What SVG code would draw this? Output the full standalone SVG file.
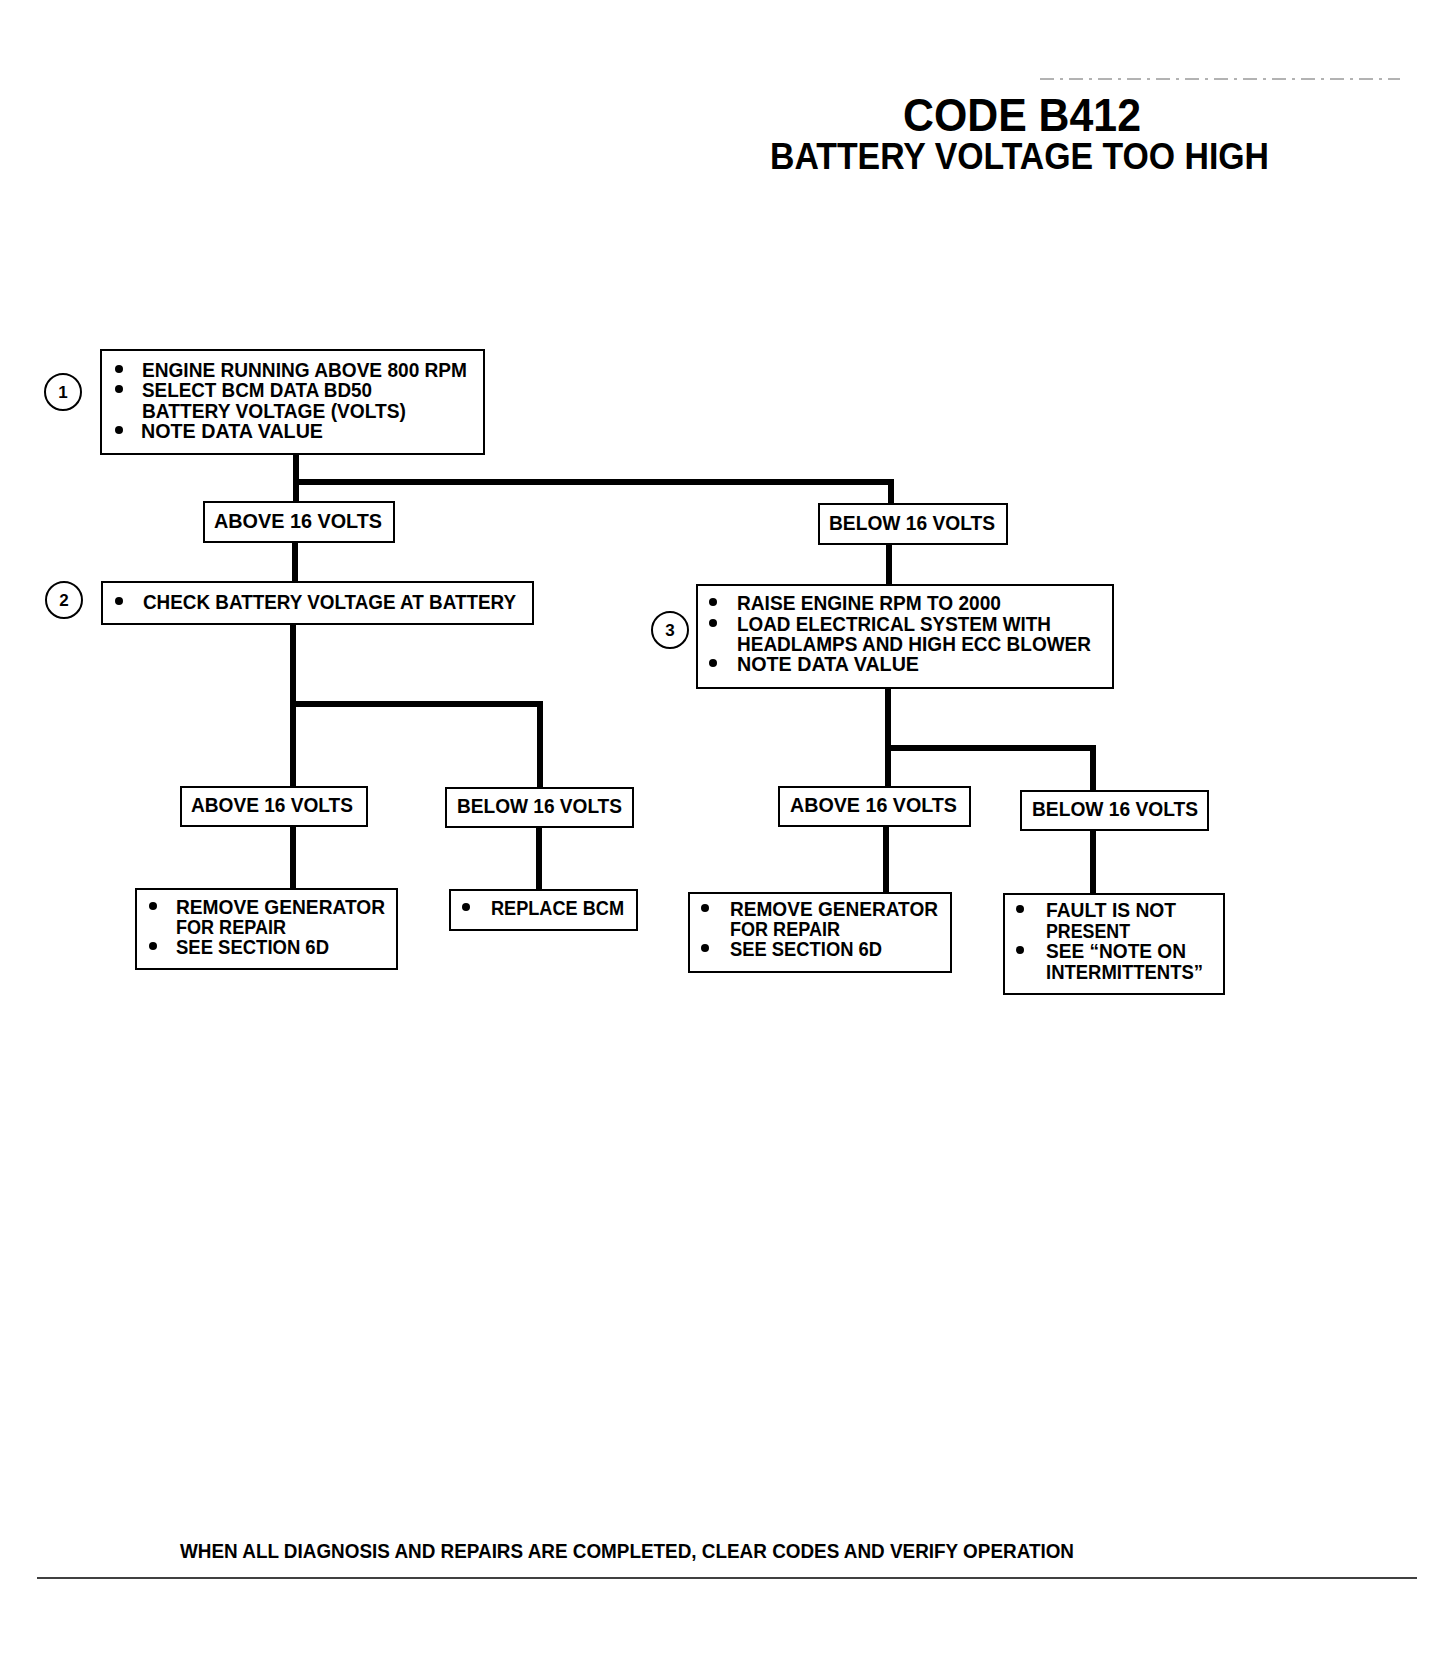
<svg xmlns="http://www.w3.org/2000/svg" width="1455" height="1654" viewBox="0 0 1455 1654">
<style>
.bg{fill:#fff}
.box{fill:#fff;stroke:#000;stroke-width:2}
.num{fill:#fff;stroke:#000;stroke-width:2}
.conn{fill:none;stroke:#000;stroke-width:6;stroke-linecap:butt;stroke-linejoin:miter}
.t{font-family:"Liberation Sans",Arial,sans-serif;font-weight:bold;font-size:20px;fill:#000}
.n{font-family:"Liberation Sans",Arial,sans-serif;font-weight:bold;font-size:17px;fill:#000;text-anchor:middle}
.title{font-family:"Liberation Sans",Arial,sans-serif;font-weight:bold;fill:#000}
.dot{fill:#000}
</style>
<rect class="bg" x="0" y="0" width="1455" height="1654"/>
<line x1="1040" y1="79" x2="1400" y2="79" stroke="#666" stroke-width="1" stroke-dasharray="14 6 3 6"/>
<g id="title">
<text class="title" x="903" y="131" font-size="46" textLength="238" lengthAdjust="spacingAndGlyphs">CODE B412</text>
<text class="title" x="770" y="169" font-size="37" textLength="499" lengthAdjust="spacingAndGlyphs">BATTERY VOLTAGE TOO HIGH</text>
</g>
<g id="connectors">
<path class="conn" d="M296,454 V502"/>
<path class="conn" d="M296,482 H891 V504"/>
<path class="conn" d="M295,542 V582"/>
<path class="conn" d="M293,624 V787"/>
<path class="conn" d="M293,704 H540 V788"/>
<path class="conn" d="M293,826 V889"/>
<path class="conn" d="M539,827 V890"/>
<path class="conn" d="M889,544 V585"/>
<path class="conn" d="M888,688 V787"/>
<path class="conn" d="M888,748 H1093 V791"/>
<path class="conn" d="M886,826 V893"/>
<path class="conn" d="M1093,830 V894"/>
</g>
<g id="step1">
<circle class="num" cx="63" cy="392" r="18"/>
<text class="n" x="63" y="398">1</text>
</g>
<g id="box1">
<rect class="box" x="101" y="350" width="383" height="104"/>
<circle class="dot" cx="119" cy="369" r="4"/>
<circle class="dot" cx="119" cy="389" r="4"/>
<circle class="dot" cx="119" cy="430" r="4"/>
<text class="t" x="142" y="377" textLength="325" lengthAdjust="spacingAndGlyphs">ENGINE RUNNING ABOVE 800 RPM</text>
<text class="t" x="142" y="397" textLength="230" lengthAdjust="spacingAndGlyphs">SELECT BCM DATA BD50</text>
<text class="t" x="142" y="418" textLength="264" lengthAdjust="spacingAndGlyphs">BATTERY VOLTAGE (VOLTS)</text>
<text class="t" x="141" y="438" textLength="182" lengthAdjust="spacingAndGlyphs">NOTE DATA VALUE</text>
</g>
<g id="a1">
<rect class="box" x="204" y="502" width="190" height="40"/>
<text class="t" x="214" y="528" textLength="168" lengthAdjust="spacingAndGlyphs">ABOVE 16  VOLTS</text>
</g>
<g id="b1">
<rect class="box" x="819" y="504" width="188" height="40"/>
<text class="t" x="829" y="530" textLength="166" lengthAdjust="spacingAndGlyphs">BELOW 16 VOLTS</text>
</g>
<g id="step2">
<circle class="num" cx="64" cy="600" r="18"/>
<text class="n" x="64" y="606">2</text>
</g>
<g id="box2">
<rect class="box" x="102" y="582" width="431" height="42"/>
<circle class="dot" cx="119" cy="601" r="4"/>
<text class="t" x="143" y="609" textLength="373" lengthAdjust="spacingAndGlyphs">CHECK BATTERY VOLTAGE AT BATTERY</text>
</g>
<g id="step3">
<circle class="num" cx="670" cy="630" r="18"/>
<text class="n" x="670" y="636">3</text>
</g>
<g id="box3">
<rect class="box" x="697" y="585" width="416" height="103"/>
<circle class="dot" cx="713" cy="602" r="4"/>
<circle class="dot" cx="713" cy="623" r="4"/>
<circle class="dot" cx="713" cy="663" r="4"/>
<text class="t" x="737" y="610" textLength="264" lengthAdjust="spacingAndGlyphs">RAISE ENGINE RPM TO 2000</text>
<text class="t" x="737" y="631" textLength="314" lengthAdjust="spacingAndGlyphs">LOAD ELECTRICAL SYSTEM WITH</text>
<text class="t" x="737" y="651" textLength="354" lengthAdjust="spacingAndGlyphs">HEADLAMPS AND HIGH ECC BLOWER</text>
<text class="t" x="737" y="671" textLength="182" lengthAdjust="spacingAndGlyphs">NOTE DATA VALUE</text>
</g>
<g id="a2">
<rect class="box" x="181" y="787" width="186" height="39"/>
<text class="t" x="191" y="812" textLength="162" lengthAdjust="spacingAndGlyphs">ABOVE 16 VOLTS</text>
</g>
<g id="b2">
<rect class="box" x="446" y="788" width="187" height="39"/>
<text class="t" x="457" y="813" textLength="165" lengthAdjust="spacingAndGlyphs">BELOW 16 VOLTS</text>
</g>
<g id="a3">
<rect class="box" x="779" y="787" width="191" height="39"/>
<text class="t" x="790" y="812" textLength="167" lengthAdjust="spacingAndGlyphs">ABOVE 16  VOLTS</text>
</g>
<g id="b3">
<rect class="box" x="1021" y="791" width="187" height="39"/>
<text class="t" x="1032" y="816" textLength="166" lengthAdjust="spacingAndGlyphs">BELOW 16 VOLTS</text>
</g>
<g id="c1">
<rect class="box" x="136" y="889" width="261" height="80"/>
<circle class="dot" cx="153" cy="906" r="4"/>
<circle class="dot" cx="153" cy="946" r="4"/>
<text class="t" x="176" y="914" textLength="209" lengthAdjust="spacingAndGlyphs">REMOVE GENERATOR</text>
<text class="t" x="176" y="934" textLength="110" lengthAdjust="spacingAndGlyphs">FOR REPAIR</text>
<text class="t" x="176" y="954" textLength="153" lengthAdjust="spacingAndGlyphs">SEE SECTION 6D</text>
</g>
<g id="c2">
<rect class="box" x="450" y="890" width="187" height="40"/>
<circle class="dot" cx="466" cy="907" r="4"/>
<text class="t" x="491" y="915" textLength="133" lengthAdjust="spacingAndGlyphs">REPLACE BCM</text>
</g>
<g id="c3">
<rect class="box" x="689" y="893" width="262" height="79"/>
<circle class="dot" cx="705" cy="908" r="4"/>
<circle class="dot" cx="705" cy="948" r="4"/>
<text class="t" x="730" y="916" textLength="208" lengthAdjust="spacingAndGlyphs">REMOVE GENERATOR</text>
<text class="t" x="730" y="936" textLength="110" lengthAdjust="spacingAndGlyphs">FOR REPAIR</text>
<text class="t" x="730" y="956" textLength="152" lengthAdjust="spacingAndGlyphs">SEE SECTION 6D</text>
</g>
<g id="c4">
<rect class="box" x="1004" y="894" width="220" height="100"/>
<circle class="dot" cx="1020" cy="909" r="4"/>
<circle class="dot" cx="1020" cy="950" r="4"/>
<text class="t" x="1046" y="917" textLength="130" lengthAdjust="spacingAndGlyphs">FAULT IS NOT</text>
<text class="t" x="1046" y="938" textLength="84" lengthAdjust="spacingAndGlyphs">PRESENT</text>
<text class="t" x="1046" y="958" textLength="140" lengthAdjust="spacingAndGlyphs">SEE “NOTE ON</text>
<text class="t" x="1046" y="979" textLength="157" lengthAdjust="spacingAndGlyphs">INTERMITTENTS”</text>
</g>
<g id="footer">
<text class="t" x="180" y="1558" font-size="19" textLength="894" lengthAdjust="spacingAndGlyphs">WHEN ALL DIAGNOSIS AND REPAIRS ARE COMPLETED, CLEAR CODES AND VERIFY OPERATION</text>
<line x1="37" y1="1578" x2="1417" y2="1578" stroke="#000" stroke-width="1.5"/>
</g>
</svg>
